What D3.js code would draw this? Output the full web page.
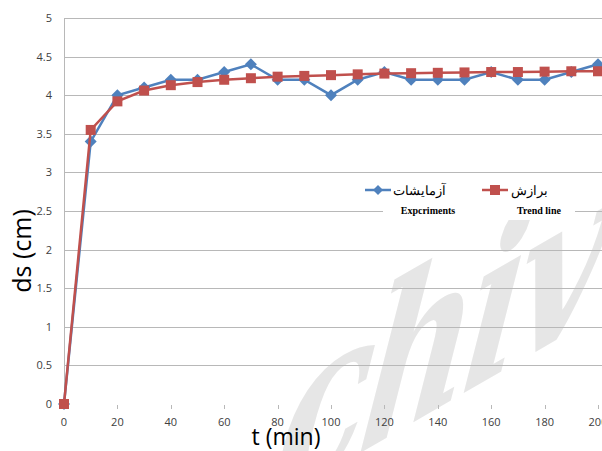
<!DOCTYPE html>
<html lang="en">
<head>
    <meta charset="UTF-8">
    <title>ds vs t</title>
    <script src="https://d3js.org/d3.v7.min.js"></script>
    <style>
        body { margin: 0; background: white; }
        svg { font-family: "Open Sans", "Liberation Sans", sans-serif; }
    </style>
</head>
<body>
    <svg width="602" height="451"></svg>

    <script>
        // data
        const times = [0, 10, 20, 30, 40, 50, 60, 70, 80, 90, 100, 110, 120, 130, 140, 150, 160, 170, 180, 190, 200];
        const experiments = [0, 3.4, 4.0, 4.1, 4.2, 4.2, 4.3, 4.4, 4.2, 4.2, 4.0, 4.2, 4.3, 4.2, 4.2, 4.2, 4.3, 4.2, 4.2, 4.3, 4.4];
        const trendLine = [0, 3.55, 3.92, 4.06, 4.13, 4.17, 4.2, 4.22, 4.24, 4.25, 4.26, 4.27, 4.28, 4.285, 4.29, 4.295, 4.3, 4.3, 4.305, 4.31, 4.31];
        const yTicks = [0, 0.5, 1, 1.5, 2, 2.5, 3, 3.5, 4, 4.5, 5];
        const xTicks = [0, 20, 40, 60, 80, 100, 120, 140, 160, 180, 200];

        const svg = d3.select("svg");

        const x = d3.scaleLinear().domain([0, 200]).range([64, 598]);
        const y = d3.scaleLinear().domain([0, 5]).range([404, 18]);

        // watermark behind everything
        svg.append("text")
            .attr("transform", "translate(270,505) rotate(-30) skewX(-38)")
            .attr("font-family", "DejaVu Serif, serif")
            .attr("font-style", "italic")
            .attr("font-weight", "bold")
            .attr("font-size", 175)
            .attr("fill", "#e6e6e6")
            .attr("letter-spacing", -8)
            .text("chiv");

        // horizontal gridlines
        svg.append("g")
            .selectAll("line")
            .data(yTicks.filter(d => d > 0))
            .join("line")
            .attr("x1", 64).attr("x2", 602)
            .attr("y1", d => Math.round(y(d)) + 0.5)
            .attr("y2", d => Math.round(y(d)) + 0.5)
            .attr("stroke", "#b8b8b8")
            .attr("stroke-width", 1);

        // vertical axis line
        svg.append("line")
            .attr("x1", 64.5).attr("x2", 64.5)
            .attr("y1", y(5)).attr("y2", y(0))
            .attr("stroke", "#b8b8b8");

        // y tick labels
        svg.append("g")
            .selectAll("text")
            .data(yTicks)
            .join("text")
            .attr("x", 52)
            .attr("y", d => y(d) + 4)
            .attr("text-anchor", "end")
            .attr("font-size", 11)
            .attr("fill", "#404040")
            .text(d => d);

        // x ticks (small marks, no axis line)
        svg.append("g")
            .selectAll("line")
            .data(xTicks.filter(d => d > 0))
            .join("line")
            .attr("x1", d => Math.round(x(d)) + 0.5)
            .attr("x2", d => Math.round(x(d)) + 0.5)
            .attr("y1", 405).attr("y2", 409)
            .attr("stroke", "#b8b8b8");

        svg.append("g")
            .selectAll("text")
            .data(xTicks)
            .join("text")
            .attr("x", d => x(d))
            .attr("y", 426)
            .attr("text-anchor", "middle")
            .attr("font-size", 11)
            .attr("fill", "#404040")
            .text(d => d);

        // axis titles
        svg.append("text")
            .attr("x", 286)
            .attr("y", 445)
            .attr("text-anchor", "middle")
            .attr("font-size", 23)
            .attr("fill", "#000")
            .text("t (min)");

        svg.append("text")
            .attr("transform", "translate(31,251) rotate(-90)")
            .attr("text-anchor", "middle")
            .attr("font-size", 25)
            .attr("fill", "#000")
            .text("ds (cm)");

        // series
        const blue = "#4f81bd";
        const red = "#c0504d";
        const line = d3.line().x(d => x(d[0])).y(d => y(d[1]));
        const expData = times.map((t, i) => [t, experiments[i]]);
        const trendData = times.map((t, i) => [t, trendLine[i]]);

        svg.append("path")
            .datum(expData)
            .attr("d", line)
            .attr("fill", "none")
            .attr("stroke", blue)
            .attr("stroke-width", 2.5);

        svg.append("g")
            .selectAll("path")
            .data(expData)
            .join("path")
            .attr("transform", d => `translate(${x(d[0])},${y(d[1])})`)
            .attr("d", "M0,-6L6,0L0,6L-6,0Z")
            .attr("fill", blue);

        svg.append("path")
            .datum(trendData)
            .attr("d", line)
            .attr("fill", "none")
            .attr("stroke", red)
            .attr("stroke-width", 2.5);

        svg.append("g")
            .selectAll("rect")
            .data(trendData)
            .join("rect")
            .attr("x", d => x(d[0]) - 5)
            .attr("y", d => y(d[1]) - 5)
            .attr("width", 10)
            .attr("height", 10)
            .attr("fill", red);

        // legend
        const legend = svg.append("g");
        legend.append("rect")
            .attr("x", 383).attr("y", 200)
            .attr("width", 192).attr("height", 20)
            .attr("fill", "white");

        legend.append("line")
            .attr("x1", 365).attr("x2", 391).attr("y1", 190).attr("y2", 190)
            .attr("stroke", blue).attr("stroke-width", 2.5);
        legend.append("path")
            .attr("transform", "translate(378,190)")
            .attr("d", "M0,-5L5,0L0,5L-5,0Z")
            .attr("fill", blue);
        legend.append("text")
            .attr("x", 446).attr("y", 195)
            .attr("text-anchor", "end")
            .attr("font-family", "DejaVu Serif, serif")
            .attr("font-size", 13)
            .attr("fill", "#000")
            .text("آزمایشات");

        legend.append("line")
            .attr("x1", 482).attr("x2", 508).attr("y1", 190).attr("y2", 190)
            .attr("stroke", red).attr("stroke-width", 2.5);
        legend.append("rect")
            .attr("x", 490).attr("y", 185).attr("width", 10).attr("height", 10)
            .attr("fill", red);
        legend.append("text")
            .attr("x", 548).attr("y", 195)
            .attr("text-anchor", "end")
            .attr("font-family", "DejaVu Serif, serif")
            .attr("font-size", 13)
            .attr("fill", "#000")
            .text("برازش");

        legend.append("text")
            .attr("x", 428).attr("y", 214)
            .attr("text-anchor", "middle")
            .attr("font-family", "Liberation Serif, serif")
            .attr("font-weight", "bold")
            .attr("font-size", 10)
            .attr("fill", "#000")
            .text("Expcriments");
        legend.append("text")
            .attr("x", 539).attr("y", 214)
            .attr("text-anchor", "middle")
            .attr("font-family", "Liberation Serif, serif")
            .attr("font-weight", "bold")
            .attr("font-size", 10)
            .attr("fill", "#000")
            .text("Trend line");
    </script>
</body>
</html>
